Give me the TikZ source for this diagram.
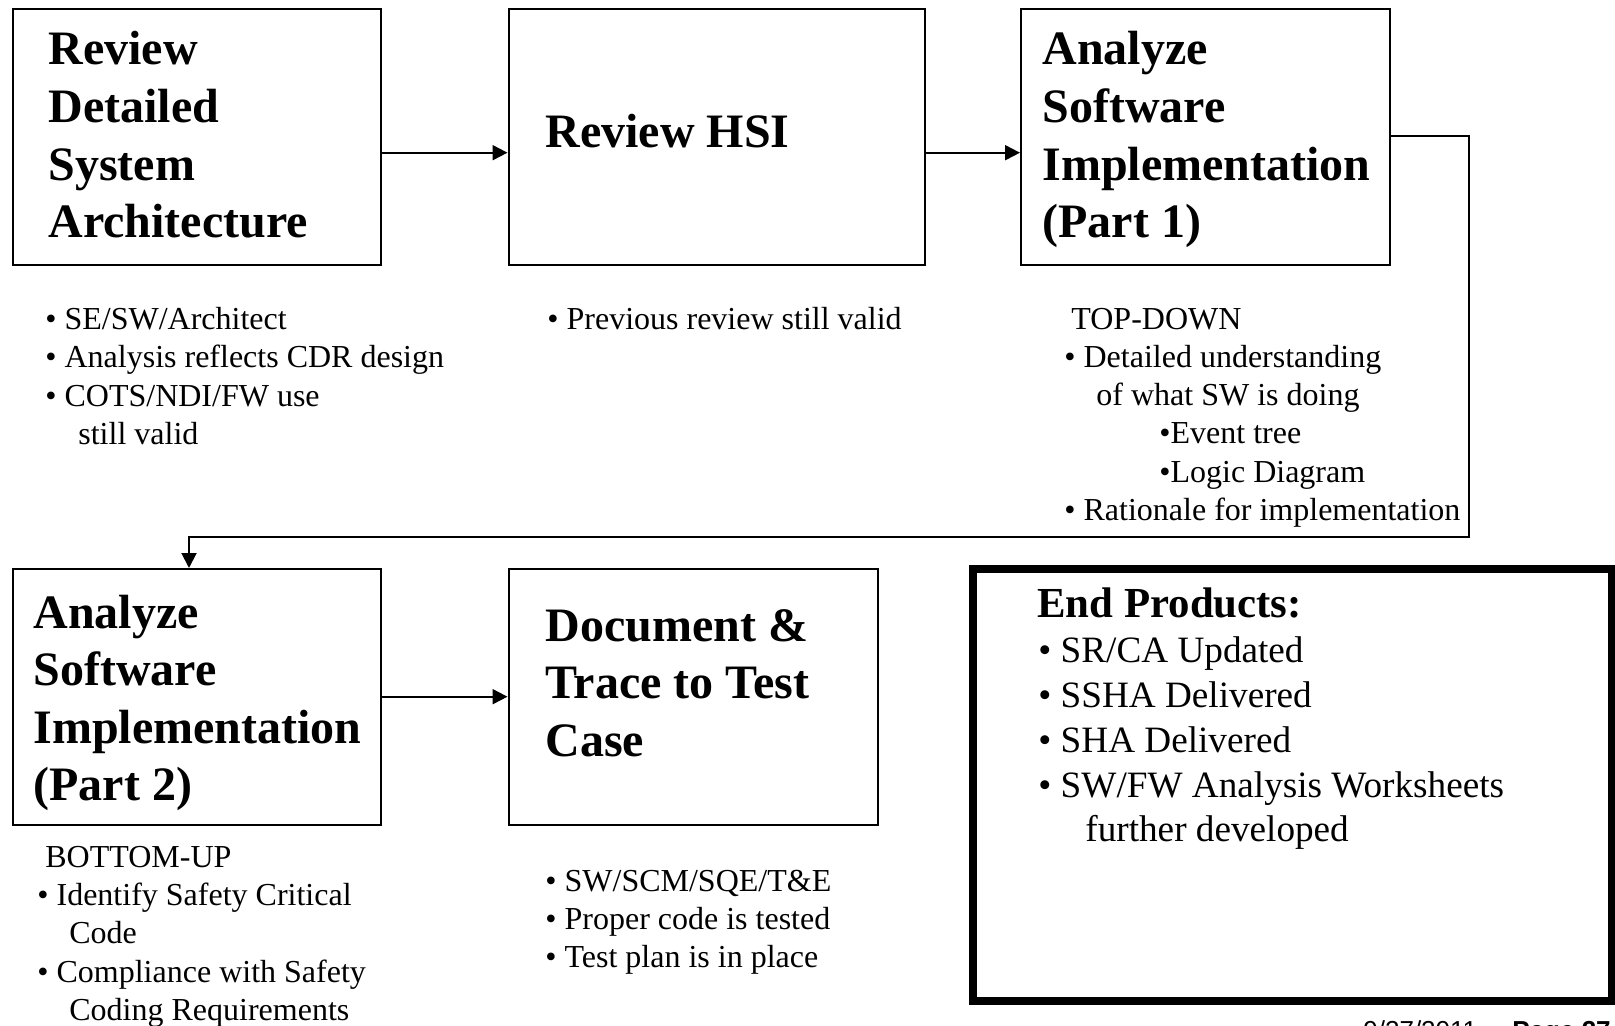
\documentclass[tikz,border=0pt]{standalone}
\usepackage{fontspec}
\setmainfont{Liberation Serif}
\newfontfamily\footfont{Liberation Sans}
\usetikzlibrary{arrows.meta}

\tikzset{
  stage/.style={draw=black, line width=1pt, inner sep=0pt, minimum width=#1},
  flow/.style={line width=1pt, -{Triangle[length=7.5pt,width=7.5pt]}},
  ttl/.style={anchor=base west, inner sep=0pt, font=\fontsize{24}{28.8}\selectfont\bfseries},
  txt/.style={anchor=base west, inner sep=0pt, font=\fontsize{16}{19.2}\selectfont},
  eptitle/.style={anchor=base west, inner sep=0pt, font=\fontsize{21.4}{25}\selectfont\bfseries},
  epitem/.style={anchor=base west, inner sep=0pt, font=\fontsize{18.6}{22.3}\selectfont},
  footer/.style={anchor=base west, inner sep=0pt, font=\footfont\fontsize{13}{15}\selectfont},
}

\begin{document}
\begin{tikzpicture}[x=0.5pt, y=-0.5pt]
  \useasboundingbox (0,0) rectangle (1615,1026);

  % process boxes (sizes in pt: one unit is half a point)
  \node[stage=184.25pt, minimum height=127.75pt] (b1) at (196.75,137.25) {};
  \node[stage=208.25pt, minimum height=127.75pt] (b2) at (716.75,137.25) {};
  \node[stage=184.25pt, minimum height=127.75pt] (b3) at (1205.25,137.25) {};
  \node[stage=184.25pt, minimum height=128pt]    (b4) at (196.75,697) {};
  \node[stage=184.5pt,  minimum height=128pt]    (b5) at (693,697) {};

  % end products frame
  \node[draw=black, line width=4pt, inner sep=0pt, minimum width=319.1pt, minimum height=216pt] (ep) at (1292.4,785) {};

  % connector levels and bends
  \coordinate (r1) at (0,152.7);
  \coordinate (r2) at (0,696.7);
  \coordinate (c1) at (1469,136.5);
  \coordinate (c2) at (1469,536.7);
  \coordinate (c3) at (189,536.7);

  \draw[flow] (b1.east |- r1) -- (b2.west |- r1);
  \draw[flow] (b2.east |- r1) -- (b3.west |- r1);
  \draw[flow] (b3.east |- c1) -- (c1) -- (c2) -- (c3) -- (c3 |- b4.north);
  \draw[flow] (b4.east |- r2) -- (b5.west |- r2);

  % box titles
  \node[ttl] (t1a) at (48,65)    {Review};
  \node[ttl] (t1b) at (48,122.6) {Detailed};
  \node[ttl] (t1c) at (48,180.2) {System};
  \node[ttl] (t1d) at (48,237.8) {Architecture};

  \node[ttl] (t2a) at (545,148)  {Review HSI};

  \node[ttl] (t3a) at (1042,65)    {Analyze};
  \node[ttl] (t3b) at (1042,122.6) {Software};
  \node[ttl] (t3c) at (1042,180.2) {Implementation};
  \node[ttl] (t3d) at (1042,237.8) {(Part 1)};

  \node[ttl] (t4a) at (33,628)   {Analyze};
  \node[ttl] (t4b) at (33,685.6) {Software};
  \node[ttl] (t4c) at (33,743.2) {Implementation};
  \node[ttl] (t4d) at (33,800.8) {(Part 2)};

  \node[ttl] (t5a) at (545,641)   {Document \&};
  \node[ttl] (t5b) at (545,698.6) {Trace to Test};
  \node[ttl] (t5c) at (545,756.2) {Case};

  % notes under the boxes
  \node[txt] (n1a) at (45,329)  {\textbullet\ SE/SW/Architect};
  \node[txt] (n1b) at (45,367)  {\textbullet\ Analysis reflects CDR design};
  \node[txt] (n1c) at (45,406)  {\textbullet\ COTS/NDI/FW use};
  \node[txt] (n1d) at (78,444)  {still valid};

  \node[txt] (n2a) at (547,329) {\textbullet\ Previous review still valid};

  \node[txt] (n3a) at (1071,329)   {TOP-DOWN};
  \node[txt] (n3b) at (1064,367)   {\textbullet\ Detailed understanding};
  \node[txt] (n3c) at (1096,405)   {of what SW is doing};
  \node[txt] (n3d) at (1159,443)   {\textbullet Event tree};
  \node[txt] (n3e) at (1159,482)   {\textbullet Logic Diagram};
  \node[txt] (n3f) at (1064,520.5) {\textbullet\ Rationale for implementation};

  \node[txt] (n4a) at (45,867.5)   {BOTTOM-UP};
  \node[txt] (n4b) at (37,905.5)   {\textbullet\ Identify Safety Critical};
  \node[txt] (n4c) at (69,943.5)   {Code};
  \node[txt] (n4d) at (37,982.5)   {\textbullet\ Compliance with Safety};
  \node[txt] (n4e) at (69,1020.5)  {Coding Requirements};

  \node[txt] (n5a) at (545,891)   {\textbullet\ SW/SCM/SQE/T\&E};
  \node[txt] (n5b) at (545,929)   {\textbullet\ Proper code is tested};
  \node[txt] (n5c) at (545,967.5) {\textbullet\ Test plan is in place};

  % end products list
  \node[eptitle] (ep0) at (1037,617)   {End Products:};
  \node[epitem]  (ep1) at (1038,662)   {\textbullet\ SR/CA Updated};
  \node[epitem]  (ep2) at (1038,707)   {\textbullet\ SSHA Delivered};
  \node[epitem]  (ep3) at (1038,752)   {\textbullet\ SHA Delivered};
  \node[epitem]  (ep4) at (1038,797)   {\textbullet\ SW/FW Analysis Worksheets};
  \node[epitem]  (ep5) at (1085,841)   {further developed};

  % page footer, running off the lower edge
  \node[footer] (fdate) at (1363,1039) {9/27/2011};
  \node[footer, font=\footfont\fontsize{13}{15}\selectfont\bfseries] (fpage) at (1512,1039) {Page 27};
\end{tikzpicture}
\end{document}
